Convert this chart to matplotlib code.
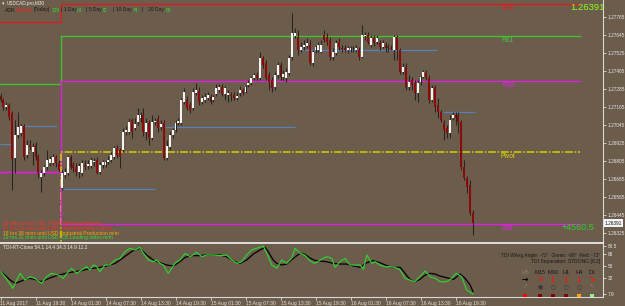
import matplotlib
matplotlib.use('Agg')
import matplotlib.pyplot as plt
import matplotlib.transforms as mtransforms
from matplotlib.patches import Rectangle

plt.rcParams['font.family'] = ['Liberation Sans', 'DejaVu Sans']

# ---------------- data ----------------
symbol = 'USDCAD,pro,M30'

opens = [
1.27238, 1.27211, 1.27165, 1.27178, 1.27125, 1.26825, 1.26978, 1.26991, 1.27038, 1.26845,
1.26911, 1.26865, 1.26911, 1.26838, 1.26698, 1.26725, 1.26765, 1.26791, 1.26791, 1.26831,
1.26791, 1.26625, 1.26711, 1.26725, 1.26831, 1.26778, 1.26765, 1.26731, 1.26725, 1.26778,
1.26771, 1.26771, 1.26798, 1.26811, 1.26731, 1.26778, 1.26778, 1.26798, 1.26811, 1.26831,
1.26891, 1.26878, 1.26878, 1.26998, 1.26998, 1.27078, 1.27025, 1.27065, 1.27091, 1.27111,
1.26998, 1.27058, 1.26958, 1.27065, 1.27085, 1.27031, 1.27058, 1.26825, 1.26898, 1.26978,
1.27011, 1.27058, 1.27058, 1.27198, 1.27211, 1.27178, 1.27158, 1.27258, 1.27271, 1.27198,
1.27211, 1.27225, 1.27231, 1.27211, 1.27251, 1.27278, 1.27298, 1.27251, 1.27245, 1.27245,
1.27245, 1.27225, 1.27258, 1.27278, 1.27265, 1.27311, 1.27325, 1.27358, 1.27378, 1.27358,
1.27491, 1.27458, 1.27378, 1.27345, 1.27298, 1.27378, 1.27445, 1.27365, 1.27358, 1.27391,
1.27498, 1.27638, 1.27631, 1.27545, 1.27565, 1.27571, 1.27578, 1.27458, 1.27545, 1.27545,
1.27531, 1.27645, 1.27631, 1.27611, 1.27498, 1.27525, 1.27598, 1.27558, 1.27558, 1.27545,
1.27545, 1.27551, 1.27545, 1.27545, 1.27498, 1.27638, 1.27645, 1.27578, 1.27625, 1.27598,
1.27591, 1.27565, 1.27578, 1.27565, 1.27558, 1.27545, 1.27631, 1.27545, 1.27398, 1.27431,
1.27298, 1.27345, 1.27325, 1.27258, 1.27331, 1.27365, 1.27391, 1.27358, 1.27211, 1.27298,
1.27178, 1.27131, 1.27058, 1.27025, 1.26991, 1.27091, 1.27111, 1.27111, 1.27065, 1.26765,
1.26691, 1.26645, 1.26458]

highs = [
1.27258, 1.27225, 1.27198, 1.27191, 1.27138, 1.27078, 1.27131, 1.27051, 1.27051, 1.26945,
1.26945, 1.26925, 1.26931, 1.26851, 1.26745, 1.26778, 1.26878, 1.26838, 1.26851, 1.26845,
1.26811, 1.26745, 1.26758, 1.26845, 1.26845, 1.26798, 1.26791, 1.26791, 1.26811, 1.26811,
1.26811, 1.26831, 1.26825, 1.26831, 1.26798, 1.26811, 1.26811, 1.26838, 1.26865, 1.26905,
1.26911, 1.26891, 1.27025, 1.27038, 1.27091, 1.27091, 1.27091, 1.27158, 1.27131, 1.27158,
1.27091, 1.27078, 1.27111, 1.27091, 1.27111, 1.27078, 1.27078, 1.26945, 1.26998, 1.27025,
1.27078, 1.27091, 1.27225, 1.27291, 1.27238, 1.27198, 1.27291, 1.27325, 1.27298, 1.27245,
1.27258, 1.27265, 1.27251, 1.27245, 1.27318, 1.27318, 1.27318, 1.27305, 1.27278, 1.27265,
1.27265, 1.27265, 1.27305, 1.27291, 1.27311, 1.27345, 1.27371, 1.27391, 1.27398, 1.27531,
1.27505, 1.27478, 1.27398, 1.27365, 1.27398, 1.27465, 1.27465, 1.27411, 1.27425, 1.27511,
1.27791, 1.27691, 1.27678, 1.27598, 1.27611, 1.27625, 1.27611, 1.27545, 1.27578, 1.27598,
1.27611, 1.27678, 1.27658, 1.27631, 1.27558, 1.27611, 1.27625, 1.27578, 1.27578, 1.27571,
1.27571, 1.27571, 1.27578, 1.27565, 1.27711, 1.27665, 1.27665, 1.27645, 1.27645, 1.27645,
1.27611, 1.27611, 1.27598, 1.27585, 1.27578, 1.27645, 1.27645, 1.27558, 1.27458, 1.27458,
1.27378, 1.27365, 1.27345, 1.27345, 1.27378, 1.27411, 1.27411, 1.27378, 1.27311, 1.27311,
1.27225, 1.27145, 1.27078, 1.27045, 1.27111, 1.27131, 1.27131, 1.27131, 1.27078, 1.26811,
1.26705, 1.26678, 1.26478]

lows = [
1.27198, 1.27145, 1.27145, 1.27078, 1.26611, 1.26725, 1.26958, 1.26971, 1.26811, 1.26825,
1.26878, 1.26778, 1.26811, 1.26691, 1.26598, 1.26705, 1.26745, 1.26771, 1.26778, 1.26765,
1.26731, 1.26611, 1.26691, 1.26711, 1.26751, 1.26731, 1.26705, 1.26691, 1.26705, 1.26745,
1.26751, 1.26758, 1.26771, 1.26718, 1.26718, 1.26758, 1.26765, 1.26785, 1.26798, 1.26818,
1.26825, 1.26758, 1.26865, 1.26978, 1.26985, 1.26958, 1.27011, 1.27045, 1.27065, 1.26971,
1.26945, 1.26911, 1.26945, 1.27045, 1.26998, 1.27011, 1.26811, 1.26811, 1.26878, 1.26958,
1.26998, 1.27045, 1.27045, 1.27185, 1.27145, 1.27125, 1.27145, 1.27245, 1.27178, 1.27185,
1.27198, 1.27211, 1.27185, 1.27198, 1.27238, 1.27265, 1.27238, 1.27211, 1.27198, 1.27205,
1.27211, 1.27211, 1.27238, 1.27245, 1.27258, 1.27298, 1.27311, 1.27345, 1.27345, 1.27345,
1.27425, 1.27345, 1.27278, 1.27265, 1.27278, 1.27358, 1.27345, 1.27345, 1.27331, 1.27378,
1.27478, 1.27625, 1.27511, 1.27531, 1.27545, 1.27558, 1.27445, 1.27438, 1.27525, 1.27531,
1.27525, 1.27598, 1.27578, 1.27478, 1.27478, 1.27511, 1.27545, 1.27531, 1.27531, 1.27525,
1.27531, 1.27531, 1.27531, 1.27478, 1.27491, 1.27611, 1.27585, 1.27565, 1.27571, 1.27585,
1.27545, 1.27558, 1.27531, 1.27531, 1.27545, 1.27478, 1.27478, 1.27385, 1.27385, 1.27278,
1.27278, 1.27278, 1.27211, 1.27198, 1.27311, 1.27358, 1.27345, 1.27191, 1.27198, 1.27131,
1.27091, 1.27065, 1.26945, 1.26958, 1.26958, 1.27078, 1.27045, 1.26991, 1.26745, 1.26678,
1.26591, 1.26445, 1.26311]

closes = [
1.27211, 1.27165, 1.27178, 1.27098, 1.26818, 1.26978, 1.27031, 1.27038, 1.26831, 1.26911,
1.26898, 1.26898, 1.26831, 1.26725, 1.26725, 1.26765, 1.26811, 1.26818, 1.26831, 1.26791,
1.26745, 1.26725, 1.26731, 1.26831, 1.26765, 1.26758, 1.26731, 1.26771, 1.26791, 1.26765,
1.26785, 1.26811, 1.26805, 1.26725, 1.26778, 1.26798, 1.26798, 1.26811, 1.26845, 1.26891,
1.26845, 1.26831, 1.26998, 1.27011, 1.27065, 1.26998, 1.27051, 1.27111, 1.27111, 1.26998,
1.27058, 1.26958, 1.27065, 1.27071, 1.27025, 1.27051, 1.26825, 1.26905, 1.26978, 1.27011,
1.27058, 1.27071, 1.27211, 1.27265, 1.27158, 1.27145, 1.27265, 1.27278, 1.27198, 1.27225,
1.27231, 1.27245, 1.27198, 1.27231, 1.27291, 1.27298, 1.27251, 1.27291, 1.27258, 1.27238,
1.27225, 1.27238, 1.27278, 1.27258, 1.27298, 1.27325, 1.27358, 1.27378, 1.27358, 1.27491,
1.27445, 1.27358, 1.27331, 1.27291, 1.27378, 1.27445, 1.27365, 1.27385, 1.27398, 1.27491,
1.27658, 1.27658, 1.27545, 1.27565, 1.27578, 1.27591, 1.27458, 1.27531, 1.27565, 1.27578,
1.27578, 1.27611, 1.27598, 1.27498, 1.27531, 1.27591, 1.27565, 1.27551, 1.27545, 1.27558,
1.27558, 1.27552, 1.27558, 1.27498, 1.27645, 1.27645, 1.27598, 1.27625, 1.27591, 1.27625,
1.27565, 1.27591, 1.27558, 1.27558, 1.27553, 1.27631, 1.27545, 1.27398, 1.27431, 1.27298,
1.27331, 1.27311, 1.27258, 1.27325, 1.27365, 1.27398, 1.27358, 1.27211, 1.27291, 1.27165,
1.27131, 1.27078, 1.27011, 1.26991, 1.27078, 1.27111, 1.27091, 1.27065, 1.26765, 1.26691,
1.26631, 1.26458, 1.26391]

current_price = 1.26391

time_labels = ['11 Aug 2017', '11 Aug 19:30', '14 Aug 01:30', '14 Aug 07:30', '14 Aug 13:30',
               '14 Aug 19:30', '15 Aug 01:30', '15 Aug 07:30', '15 Aug 13:30', '15 Aug 19:30',
               '16 Aug 01:30', '16 Aug 07:30', '16 Aug 13:30', '16 Aug 19:30']
time_label_bars = [0, 12, 24, 36, 48, 60, 72, 84, 96, 108, 120, 132, 144, 156]

price_ticks = [1.27765, 1.27645, 1.27525, 1.27405, 1.27285, 1.27165, 1.27045,
               1.26925, 1.26805, 1.26685, 1.26565, 1.26445, 1.26325]

# Fibonacci pivot levels: previous day / current day
level_names = ['R76', 'R61', 'R38', 'Pivot', 'S38']
level_prev = [1.27731, 1.27318, 1.26731, 1.26100, 1.26731]
level_curr = [1.27851, 1.27638, 1.27338, 1.26865, 1.26385]
day_change_bar = 20.7
level_end_bar = 198.7
level_label_bar = 174
profit_bar = 198

# swing high/low segments
swing_level = [1.26918, 1.27038, 1.26618, 1.27031, 1.27545, 1.27131]
swing_start = [-0.2, 7.7, 21.4, 56.4, 102.7, 151.7]
swing_end = [4.0, 19.4, 53.0, 101.0, 149.7, 162.7]

# TDI indicator
tdi_green_bar = [0, 1.5, 2.7, 4.2, 5.3, 6.7, 8.4, 10.1, 11.8, 14.1, 15.8, 17.5, 19.8, 21.5, 23.3,
                 24.4, 26.1, 27.8, 29.5, 30.7, 31.8, 33.0, 34.1, 35.8, 37.5, 39.3, 41.0, 42.7, 44.4,
                 46.1, 47.8, 49.0, 50.7, 52.4, 53.5, 54.7, 55.8, 57.5, 58.7, 59.8, 61.5, 63.3, 65.0,
                 67.3, 69.0, 70.7, 73.0, 75.3, 77.5, 79.3, 81.0, 82.7, 84.4, 86.1, 87.8, 90.1, 91.3,
                 93.0, 94.7, 96.4, 98.1, 99.8, 101.0, 102.7, 104.4, 106.1, 107.8, 109.6, 111.8, 113.6,
                 114.7, 116.4, 118.1, 119.8, 121.6, 123.3, 124.4, 125.6, 127.3, 128.4, 130.1, 131.8,
                 133.6, 135.3, 137.0, 138.7, 140.4, 142.1, 143.8, 145.6, 147.3, 149.0, 150.7, 153.0,
                 154.7, 156.2, 158.1, 159.8, 162.0]
tdi_green = [41.7, 34.2, 26.8, 16.8, 26.8, 39.2, 29.2, 34.2, 31.7, 24.3, 34.2, 39.2, 36.7, 31.7, 41.7,
             46.7, 39.2, 44.2, 49.2, 44.2, 51.7, 49.2, 41.7, 51.7, 51.7, 59.1, 61.6, 71.6, 76.6,
             74.1, 78.0, 69.1, 59.1, 56.6, 59.1, 54.1, 51.7, 39.2, 46.7, 54.1, 59.1, 69.1, 64.1,
             70.6, 64.1, 66.6, 66.6, 65.6, 66.6, 59.1, 54.1, 56.6, 66.6, 74.1, 76.6, 80.0, 69.1,
             51.7, 46.7, 59.1, 54.1, 61.6, 76.6, 69.1, 66.0, 58.0, 54.0, 59.1, 64.1, 61.6,
             48.2, 56.6, 61.6, 51.7, 51.7, 51.7, 45.2, 66.6, 54.1, 56.6, 51.7, 49.2,
             49.2, 48.2, 44.2, 31.7, 29.2, 26.8, 34.2, 42.7, 34.2, 31.7, 26.8, 26.8,
             31.7, 39.2, 34.2, 14.3, 8.3]
tdi_black_bar = [0, 1.5, 3.3, 5.0, 6.7, 8.4, 10.1, 11.8, 14.1, 15.8, 17.5, 19.8, 21.5, 23.3, 25.5,
                 27.8, 29.5, 31.8, 34.1, 36.4, 39.3, 41.0, 43.3, 45.5, 47.8, 50.1, 52.4, 54.7, 57.0,
                 59.3, 61.5, 63.3, 65.5, 67.8, 70.7, 73.0, 75.3, 77.5, 79.8, 82.1, 84.4, 86.7, 89.0,
                 90.7, 91.8, 93.5, 94.7, 96.4, 98.1, 100.4, 102.7, 104.4, 106.1, 107.8, 109.6, 111.8,
                 114.1, 116.4, 118.7, 121.0, 123.3, 125.6, 127.8, 130.1, 132.4, 134.7, 137.0, 138.7,
                 140.4, 142.1, 143.8, 145.6, 147.3, 149.0, 150.7, 153.0, 155.3, 157.6, 159.3, 161.0,
                 162.0]
tdi_black = [41.7, 36.7, 29.2, 24.3, 26.8, 30.2, 31.7, 30.2, 26.8, 30.2, 33.2, 36.7, 38.2, 40.2, 41.7,
             43.2, 45.2, 46.7, 48.2, 50.2, 54.1, 59.1, 66.6, 73.1, 76.6, 66.6, 59.1, 55.1, 51.7,
             50.2, 56.6, 63.1, 65.6, 65.6, 66.6, 66.6, 66.6, 64.1, 57.6, 54.1, 59.1, 68.1, 74.1,
             78.0, 71.6, 59.1, 54.1, 51.7, 53.1, 61.6, 69.1, 67.5, 62.0, 58.5, 57.6, 56.6,
             54.1, 53.1, 53.1, 50.2, 48.2, 55.1, 58.1, 55.1, 50.7, 48.2, 48.2, 39.2,
             30.2, 26.8, 30.2, 36.7, 39.2, 38.2, 35.2, 32.7, 30.2, 38.2, 31.7, 21.8,
             12.0]
tdi_ticks = [80.5, 68, 50, 32, 7.9]
tdi_title = 'TDI-RT-Clone 54.1 14.4 34.3 14.9 11.2'

tf_labels = ['M5', 'M15', 'M30', 'H1', 'H4', 'D1']
tf_arrows = ['\u2192', '\u2198', '\u2193', '\u2193', '\u2193', '\u2198']
tf_arrow_colors = ['#000000', '#ff1010', '#ff1010', '#ff1010', '#ff1010', '#ff1010']
tf_marks = ['\u21d7', '\u25cf', '\u25cb', '\u25cb', '\u25cb', '\u2196']
tf_mark_colors = ['#8a7b6b', '#3a3a3a', '#3a3a3a', '#3a3a3a', '#3a3a3a', '#8a7b6b']
tf_square_colors = ['#ff0000', '#800000', '#800000', '#800000', '#ffa500', '#90ee90']

events = ['36 mins since USD: FOMC Meeting Minutes',
          '17 hrs 51 mins until USD: Unemployment Claims',
          '18 hrs 36 mins until USD: Industrial Production m/m',
          '19 hrs 21 mins until USD: CB Leading Index m/m']
event_colors = ['#ff3030', '#ff2828', '#ffa500', '#33dd33']

adr_parts = [('ADR', '#1a1a1a'), ('100.2%', '#ff2020'), ('|Today|', '#1a1a1a'), ('135', '#33dd33'),
             ('| 1 Day', '#1a1a1a'), ('81', '#33dd33'), ('| 5 Day', '#1a1a1a'), ('72', '#33dd33'),
             ('| 10 Day', '#1a1a1a'), ('74', '#33dd33'), ('|', '#1a1a1a'), ('20 Day', '#1a1a1a'),
             ('68', '#33dd33')]
profit_text = '+4560.5'

# ---------------- layout / style ----------------
BG = '#6b5c4c'
W, H = 625, 306
AXR = 603          # right edge of plotting area in px
MAIN_BOTTOM = 242
IND_TOP, IND_BOTTOM = 243, 297
BAR_PX = 2.9167

def fx(px):
    return px / W

def fy(py):
    return 1 - py / H

fig = plt.figure(figsize=(W / 100, H / 100), dpi=100, facecolor=BG)

xlim = (-0.5 / BAR_PX, (AXR - 0.5) / BAR_PX)

# ---------- main chart ----------
ax = fig.add_axes([0, fy(MAIN_BOTTOM), fx(AXR), MAIN_BOTTOM / H], facecolor=BG)
ax.set_xlim(*xlim)
ax.set_ylim(1.26265, 1.27878)

# level lines (step at the day change)
line_colors = ['#d42020', '#44c030', '#e020e0', '#d8d000', '#e020e0']
label_colors = ['#f01818', '#46c840', '#f020f0', '#e8dc00', '#f020f0']
for name, prev, cur, lc, tc in zip(level_names, level_prev, level_curr, line_colors, label_colors):
    if prev is None:
        xs, ys = [day_change_bar, level_end_bar], [cur, cur]
    else:
        xs = [xlim[0], day_change_bar, day_change_bar, level_end_bar]
        ys = [prev, prev, cur, cur]
    if name == 'Pivot':
        ax.plot(xs, ys, color=lc, lw=1.1, dashes=(5, 1.2, 1, 1.2), zorder=1)
    else:
        ax.plot(xs, ys, color=lc, lw=1.0, zorder=1)
    ax.annotate(name, (level_label_bar, cur), xytext=(0, -0.5), textcoords='offset points',
                ha='center', va='top', fontsize=4.8, color=tc, zorder=5)

ax.hlines(swing_level, swing_start, swing_end, color='#5a80b4', lw=0.9, zorder=1)

# candles
n = min(len(opens), len(highs), len(lows), len(closes))
idx = list(range(n))
ax.vlines(idx, lows[:n], highs[:n], color='#2a241e', lw=0.75, zorder=2)
bottoms = [min(opens[i], closes[i]) for i in idx]
heights = [max(abs(closes[i] - opens[i]), 0.000015) for i in idx]
colors = ['#f4f4f4' if closes[i] >= opens[i] else '#8c0a0a' for i in idx]
ax.bar(idx, heights, bottom=bottoms, width=0.68, color=colors, linewidth=0, zorder=3)

# price axis
ax.yaxis.tick_right()
ax.set_yticks(price_ticks)
ax.set_yticklabels([f'{p:.5f}' for p in price_ticks], fontsize=3.4, color='#e8e8e8')
ax.tick_params(axis='y', length=2, width=0.6, color='#d8d8d8', pad=1.2)
ax.set_xticks([])
for s in ['left', 'top', 'bottom']:
    ax.spines[s].set_visible(False)
ax.spines['right'].set_color('#d8d8d8')
ax.spines['right'].set_linewidth(0.8)

trans = mtransforms.blended_transform_factory(ax.transAxes, ax.transData)
ax.text(1 + 1.8 / AXR, current_price, f'{current_price:.5f}', transform=trans, ha='left', va='center',
        fontsize=3.4, color='#111111', clip_on=False, zorder=6,
        bbox=dict(boxstyle='square,pad=0.25', fc='#f4f4f4', ec='none'))

ax.text(profit_bar, current_price, profit_text, fontsize=6.5, color='#33cc33',
        ha='center', va='top', zorder=6)

# ---------- indicator window ----------
ax2 = fig.add_axes([0, fy(IND_BOTTOM), fx(AXR), (IND_BOTTOM - IND_TOP) / H], facecolor=BG)
ax2.set_xlim(*xlim)
ax2.set_ylim(3.9, 84.5)
ax2.plot(tdi_black_bar, tdi_black, color='#000000', lw=0.9, zorder=2)
ax2.plot(tdi_green_bar, tdi_green, color='#33cc33', lw=0.9, zorder=3)
ax2.yaxis.tick_right()
ax2.set_yticks(tdi_ticks)
ax2.set_yticklabels([str(t) for t in tdi_ticks], fontsize=3.4, color='#e8e8e8')
ax2.tick_params(axis='y', length=2, width=0.6, color='#d8d8d8', pad=1.2)
ax2.set_xticks(time_label_bars)
ax2.set_xticklabels(time_labels, fontsize=3.6, color='#e0e0e0')
for lab in ax2.get_xticklabels():
    lab.set_ha('left')
ax2.tick_params(axis='x', length=2, width=0.6, color='#d8d8d8', pad=1.0)
ax2.spines['left'].set_visible(False)
ax2.spines['top'].set_color('#f4f4f4')
ax2.spines['top'].set_linewidth(1.2)
ax2.spines['right'].set_color('#d8d8d8')
ax2.spines['right'].set_linewidth(0.8)
ax2.spines['bottom'].set_color('#d8d8d8')
ax2.spines['bottom'].set_linewidth(0.8)

# ---------- texts ----------
fig.text(fx(2), fy(4), '\u25be', fontsize=3.4, color='#f0f0f0', va='center', ha='left')
fig.text(fx(7), fy(4), symbol, fontsize=3.3, color='#f0f0f0', va='center', ha='left')

adr_x = [5, 16, 33, 52, 61, 77, 86, 102, 113, 133, 142, 148, 166]
for (txt, col), xp in zip(adr_parts, adr_x):
    fig.text(fx(xp), fy(10), txt, fontsize=3.6, color=col, va='center', ha='left')

fig.text(fx(570), fy(8), f'{current_price:.5f}', fontsize=6.8, color='#8cff1a', va='center', ha='left')

event_y = [224, 228.8, 233.4, 238]
for txt, col, yp in zip(events, event_colors, event_y):
    fig.text(fx(3), fy(yp), txt, fontsize=3.6, color=col, va='center', ha='left')

fig.text(fx(3), fy(247.5), tdi_title, fontsize=3.5, color='#eeeeee', va='center', ha='left')
fig.text(fx(600), fy(255), 'TDI WAvg Angle: -72\u00b0  Green: -68\u00b0  Red: -73\u00b0',
         fontsize=3.5, color='#1a1a1a', va='center', ha='right')
fig.text(fx(600), fy(261.5), 'TDI Separation: STRONG [8.2]',
         fontsize=3.6, color='#1a1a1a', va='center', ha='right')

tf_x = [525, 540, 553, 566, 579, 592]
for k, xp in enumerate(tf_x):
    lab_col = '#8a7b6b' if k == 0 else '#1a1a1a'
    fig.text(fx(xp), fy(272), tf_labels[k], fontsize=4.0, color=lab_col, va='center', ha='center')
    fig.text(fx(xp), fy(279), tf_arrows[k], fontsize=5.5, color=tf_arrow_colors[k], va='center',
             ha='center', fontweight='bold', family=['DejaVu Sans'])
    fig.text(fx(xp), fy(286.5), tf_marks[k], fontsize=4.2, color=tf_mark_colors[k], va='center',
             ha='center', family=['DejaVu Sans'])
    fig.patches.append(Rectangle((fx(xp - 1.7), fy(297)), fx(3.4), 3.2 / H, transform=fig.transFigure,
                                 facecolor=tf_square_colors[k], edgecolor='none', zorder=10))

fig.savefig('out.png', dpi=100, facecolor=BG)
